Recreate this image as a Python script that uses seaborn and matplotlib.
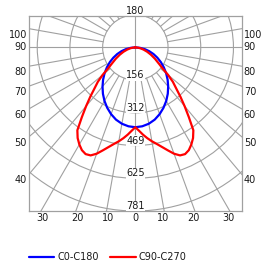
import numpy as np
import pandas as pd
import matplotlib
matplotlib.use("Agg")
import matplotlib.pyplot as plt
from matplotlib.patches import Circle
import seaborn as sns

# ---- data ----
angles_c0 = [0, 5, 10, 15, 20, 25, 30, 35, 40, 45, 50, 55, 60, 65, 70, 75, 80, 85, 90]
c0_c180 = [381, 378, 370, 357, 339, 318, 295, 270, 244, 218, 192, 166, 141, 116, 92, 68, 45, 22, 0]
angles_c90 = [0, 2.5, 5, 7.5, 10, 12.5, 15, 17.5, 20, 22.5, 25, 27.5, 30, 32.5, 35, 37.5, 40,
              42.5, 45, 47.5, 50, 52.5, 55, 60, 65, 70, 75, 80, 85, 90]
c90_c270 = [381, 398, 418, 437, 455, 472, 492, 515, 540, 558, 562, 553, 535, 513, 483, 420, 366,
            318, 275, 243, 204, 163, 140, 108, 82, 60, 41, 26, 12, 0]
series_names = ["C0-C180", "C90-C270"]
ring_values = [156, 312, 469, 625, 781]
ring_step = 781 / 5
side_ticks = [40, 50, 60, 70, 80, 90, 100]
bottom_ticks = [10, 20, 30]

sns.set_theme(style="white")
plt.rcParams["font.family"] = ["DejaVu Sans"]

GRID = "#a0a0a0"
TXT = "#1a1a1a"
FS = 7

fig = plt.figure(figsize=(2.75, 2.66), dpi=100)
ax = fig.add_axes([29 / 275, 55 / 266, 212.7 / 275, 195.4 / 266])
XL = 508
ax.set_xlim(-XL, XL)
ax.set_ylim(-781, 152)
ax.set_xticks([])
ax.set_yticks([])
for s in ax.spines.values():
    s.set_color(GRID)
    s.set_linewidth(0.9)

# rings
for k in range(1, 6):
    ax.add_patch(Circle((0, 0), k * ring_step, fill=False, ec=GRID, lw=0.8, zorder=1))
# spokes
for a in range(10, 360, 10):
    if a % 90 == 0:
        continue
    t = np.deg2rad(a)
    r0, r1 = ring_step, 2000
    ax.plot([r0 * np.sin(t), r1 * np.sin(t)], [-r0 * np.cos(t), -r1 * np.cos(t)],
            color=GRID, lw=0.8, zorder=1)
ax.axhline(0, color=GRID, lw=0.8, zorder=1)
ax.axvline(0, color=GRID, lw=0.8, zorder=1)

# curves
rows = []
for name, angs, vals in zip(series_names, [angles_c0, angles_c90], [c0_c180, c90_c270]):
    th = [-a for a in angs[::-1]] + angs[1:]
    iv = vals[::-1] + vals[1:]
    for i, (a, v) in enumerate(zip(th, iv)):
        t = np.deg2rad(a)
        rows.append({"series": name, "order": i, "x": v * np.sin(t), "y": -v * np.cos(t)})
df = pd.DataFrame(rows)
sns.lineplot(data=df, x="x", y="y", hue="series", palette={"C0-C180": "#0000ff", "C90-C270": "#ff0000"},
             sort=False, estimator=None, lw=1.6, ax=ax, zorder=5)
ax.set_xlabel("")
ax.set_ylabel("")

# ring labels
for k, v in enumerate(ring_values, start=1):
    ax.text(0, -k * ring_step, str(v), ha="center", va="bottom", fontsize=FS, color=TXT, zorder=3,
            bbox=dict(facecolor="white", edgecolor="none", pad=0.3))

# side angle labels
for a in side_ticks:
    t = np.deg2rad(a)
    y = -XL * np.cos(t) / np.sin(t)
    off = 0 if a == 90 else -4.3
    ax.annotate(str(a), (-XL, y), xytext=(-1.5, off), textcoords="offset points",
                ha="right", va="center", fontsize=FS, color=TXT, annotation_clip=False)
    ax.annotate(str(a), (XL, y), xytext=(1.5, off), textcoords="offset points",
                ha="left", va="center", fontsize=FS, color=TXT, annotation_clip=False)
# bottom labels
for a in bottom_ticks:
    x = 781 * np.tan(np.deg2rad(a))
    for sgn in (-1, 1):
        ax.annotate(str(a), (sgn * x, -781), xytext=(-sgn * 1.0, -1.5), textcoords="offset points",
                    ha="center", va="top", fontsize=FS, color=TXT, annotation_clip=False)
ax.annotate("0", (0, -781), xytext=(0, -1.5), textcoords="offset points",
            ha="center", va="top", fontsize=FS, color=TXT, annotation_clip=False)
ax.annotate("180", (0, 152), xytext=(0, 0), textcoords="offset points",
            ha="center", va="bottom", fontsize=FS, color=TXT, annotation_clip=False)

sns.move_legend(ax, loc="center left", bbox_to_anchor=(0.0, (9 - 55) / 195.4), ncol=2, frameon=False,
                title=None, fontsize=FS, handlelength=2.6, handletextpad=0.3, columnspacing=1.2,
                borderpad=0, borderaxespad=0)
for t in ax.get_legend().get_texts():
    t.set_color(TXT)

fig.savefig("out.png", dpi=100)
